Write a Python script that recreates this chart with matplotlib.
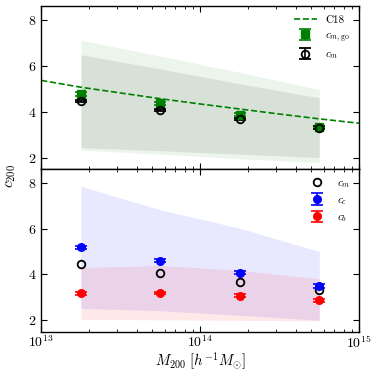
import numpy as np
import matplotlib
matplotlib.use("Agg")
import matplotlib.pyplot as plt

plt.rcParams['font.family'] = 'serif'
plt.rcParams['font.serif'] = ['cmr10', 'DejaVu Serif']
plt.rcParams['mathtext.fontset'] = 'cm'
plt.rcParams['axes.formatter.use_mathtext'] = True
plt.rcParams['font.size'] = 10

# halo mass bins
mass = np.array([10**13.25, 10**13.75, 10**14.25, 10**14.75])

# top panel
c_m_go = [4.78, 4.37, 3.87, 3.34]
c_m_go_err = [0.08, 0.07, 0.06, 0.05]
c_m = [4.47, 4.08, 3.69, 3.31]
c_m_err = [0.06, 0.05, 0.05, 0.05]
go_band_lo = [2.33, 2.15, 1.95, 1.78]
go_band_hi = [7.12, 6.43, 5.72, 4.97]
m_band_lo = [2.43, 2.30, 2.15, 2.00]
m_band_hi = [6.49, 5.87, 5.22, 4.61]

# C18 relation
c18_mass = 10**np.array([13.0, 13.25, 13.5, 13.75, 14.0, 14.25, 14.5, 14.75, 15.0])
c18_c = [5.37, 5.07, 4.82, 4.57, 4.34, 4.12, 3.90, 3.69, 3.50]

# bottom panel
c_c = [5.18, 4.60, 4.08, 3.50]
c_c_err = [0.06, 0.06, 0.06, 0.10]
c_b = [3.17, 3.20, 3.08, 2.88]
c_b_err = [0.05, 0.05, 0.05, 0.07]
cc_band_lo = [2.52, 2.42, 2.22, 2.00]
cc_band_hi = [7.85, 6.82, 6.02, 5.00]
cb_band_lo = [2.04, 2.02, 2.00, 1.97]
cb_band_hi = [4.30, 4.39, 4.18, 3.81]

fig = plt.figure(figsize=(3.74, 3.74), dpi=100)
ax1 = fig.add_axes([0.11, 0.548, 0.85, 0.435])
ax2 = fig.add_axes([0.11, 0.113, 0.85, 0.435])

ax1.fill_between(mass, go_band_lo, go_band_hi, color='green', alpha=0.08, lw=0)
ax1.fill_between(mass, m_band_lo, m_band_hi, color='black', alpha=0.08, lw=0)
ax1.plot(c18_mass, c18_c, ls='--', color='green', lw=1.2, label='C18')
ax1.errorbar(mass, c_m_go, yerr=c_m_go_err, fmt='s', color='green', ms=5.5,
             capsize=4, elinewidth=1.2, capthick=1.2, label=r'$c_{m,\rm go}$')
ax1.errorbar(mass, c_m, yerr=c_m_err, fmt='o', mfc='none', mec='black', color='black',
             ms=5.5, mew=1.3, capsize=4, elinewidth=1.2, capthick=1.2, label=r'$c_m$')
ax1.legend(loc='upper right', frameon=False, fontsize=8, handlelength=2.0,
           borderaxespad=0.4)

ax2.fill_between(mass, cc_band_lo, cc_band_hi, color='blue', alpha=0.09, lw=0)
ax2.fill_between(mass, cb_band_lo, cb_band_hi, color='red', alpha=0.09, lw=0)
ax2.plot(mass, c_m, 'o', mfc='none', mec='black', ms=5.5, mew=1.3, label=r'$c_m$')
ax2.errorbar(mass, c_c, yerr=c_c_err, fmt='o', color='blue', ms=5.5,
             capsize=4, elinewidth=1.2, capthick=1.2, label=r'$c_c$')
ax2.errorbar(mass, c_b, yerr=c_b_err, fmt='o', color='red', ms=5.5,
             capsize=4, elinewidth=1.2, capthick=1.2, label=r'$c_b$')
ax2.legend(loc='upper right', frameon=False, fontsize=8, handlelength=2.0,
           borderaxespad=0.4)

for ax in (ax1, ax2):
    ax.set_xscale('log')
    ax.set_xlim(1e13, 1e15)
    ax.set_ylim(1.5, 8.6)
    ax.set_yticks([2, 4, 6, 8])
    ax.tick_params(which='both', direction='in', top=True, right=True, labelsize=10)
    ax.tick_params(which='major', length=4)
    ax.tick_params(which='minor', length=2)
    for s in ax.spines.values():
        s.set_linewidth(1.0)

ax1.tick_params(labelbottom=False)
ax2.tick_params(axis='x', pad=2)
ax2.set_xlabel(r'$M_{200}\ [h^{-1}M_{\odot}]$', fontsize=10.5, labelpad=0)
fig.text(0.03, 0.53, r'$c_{200}$', rotation=90, va='center', ha='center', fontsize=11)

fig.savefig('out.png', dpi=100)
